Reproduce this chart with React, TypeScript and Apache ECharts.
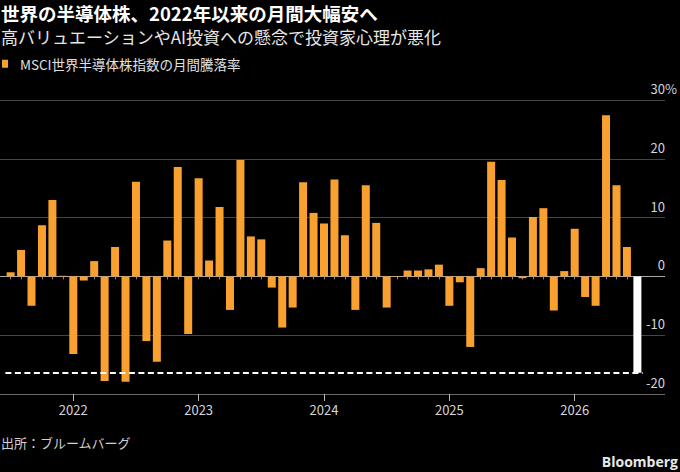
import React, { useEffect, useRef } from 'react';
import * as echarts from 'echarts';

const TITLE = '世界の半導体株、2022年以来の月間大幅安へ';
const SUBTITLE = '高バリュエーションやAI投資への懸念で投資家心理が悪化';
const SERIES_NAME = 'MSCI世界半導体株指数の月間騰落率';
const SOURCE = '出所：ブルームバーグ';
const BRAND = 'Bloomberg';

const months = [
  '2021-07', '2021-08', '2021-09', '2021-10', '2021-11', '2021-12',
  '2022-01', '2022-02', '2022-03', '2022-04', '2022-05', '2022-06',
  '2022-07', '2022-08', '2022-09', '2022-10', '2022-11', '2022-12',
  '2023-01', '2023-02', '2023-03', '2023-04', '2023-05', '2023-06',
  '2023-07', '2023-08', '2023-09', '2023-10', '2023-11', '2023-12',
  '2024-01', '2024-02', '2024-03', '2024-04', '2024-05', '2024-06',
  '2024-07', '2024-08', '2024-09', '2024-10', '2024-11', '2024-12',
  '2025-01', '2025-02', '2025-03', '2025-04', '2025-05', '2025-06',
  '2025-07', '2025-08', '2025-09', '2025-10', '2025-11', '2025-12',
  '2026-01', '2026-02', '2026-03', '2026-04', '2026-05', '2026-06',
  '2026-07',
];

const changes = [
  0.7, 4.5, -5.0, 8.7, 13.0, 0.1,
  -13.2, -0.7, 2.6, -17.8, 5.0, -17.9,
  16.1, -11.0, -14.5, 6.1, 18.6, -9.8,
  16.7, 2.7, 11.8, -5.7, 19.8, 6.8,
  6.3, -1.9, -8.7, -5.3, 16.0, 10.8,
  9.0, 16.5, 7.0, -5.7, 15.5, 9.1,
  -5.3, -0.1, 1.0, 1.0, 1.2, 2.0,
  -5.0, -1.0, -12.0, 1.4, 19.5, 16.4,
  6.6, -0.3, 10.1, 11.6, -5.8, 0.9,
  8.1, -3.5, -5.0, 27.4, 15.5, 5.0,
  -16.4,
];

const latestDrop = -16.4;
const yMin = -20;
const yMax = 30;
const yStep = 10;

const ORANGE = '#F8A131';
const FONT = "'Noto Sans CJK JP', 'Noto Sans', sans-serif";

export default function App() {
  const ref = useRef<HTMLDivElement>(null);

  useEffect(() => {
    if (!ref.current) return;
    const chart = echarts.init(ref.current, null, { renderer: 'svg' });
    const lastIdx = changes.length - 1;
    const isYearStart = (_i: number, v: string) => String(v).endsWith('-01');

    chart.setOption({
      animation: false,
      backgroundColor: '#000',
      textStyle: { fontFamily: FONT },
      title: [
        {
          text: TITLE, left: 1, top: 3, padding: 0,
          textStyle: { color: '#fff', fontSize: 18.5, fontWeight: 'bold', fontFamily: FONT, lineHeight: 19 },
        },
        {
          text: SUBTITLE, left: 1, top: 26.5, padding: 0,
          textStyle: { color: '#e6e6e6', fontSize: 17, fontWeight: 'normal', fontFamily: FONT, lineHeight: 19 },
        },
        {
          text: SOURCE, left: 1, top: 434, padding: 0,
          textStyle: { color: '#d0d0d0', fontSize: 13, fontWeight: 'normal', fontFamily: FONT, lineHeight: 16 },
        },
        {
          text: BRAND, right: 2, top: 453, padding: 0,
          textStyle: { color: '#e8e8e8', fontSize: 14, fontWeight: 'bold', fontFamily: "'Open Sans', 'Noto Sans', sans-serif", lineHeight: 17 },
        },
      ],
      legend: {
        left: 2, top: 57, padding: 0,
        icon: 'rect', itemWidth: 6, itemHeight: 8,
        textStyle: { color: '#e0e0e0', fontSize: 13.5, fontFamily: FONT, padding: [0, 0, 0, 7] },
        data: [SERIES_NAME],
      },
      grid: [
        { left: 0, right: 10, top: 100, bottom: 78 },
        { left: 5.4, right: 37.4, top: 100, bottom: 78 },
      ],
      xAxis: [
        { gridIndex: 0, type: 'value', min: 0, max: 1, show: false },
        {
          gridIndex: 1, type: 'category', data: months, position: 'bottom',
          axisLine: { show: false },
          axisTick: { show: true, alignWithLabel: true, interval: 0, length: 3, lineStyle: { color: '#8a8a8a' } },
          axisLabel: { show: false },
          splitLine: { show: false },
        },
        {
          gridIndex: 1, type: 'category', data: months, position: 'bottom',
          axisLine: { show: false },
          axisTick: { show: true, alignWithLabel: true, interval: isYearStart, length: 7, lineStyle: { color: '#bbbbbb' } },
          axisLabel: {
            show: true, interval: isYearStart, margin: 9,
            formatter: (v: string) => v.slice(0, 4),
            color: '#d6d6d6', fontSize: 13, fontFamily: FONT,
          },
          splitLine: { show: false },
        },
      ],
      yAxis: [
        {
          gridIndex: 0, type: 'value', min: yMin, max: yMax, interval: yStep, position: 'right',
          axisLine: { show: false },
          axisTick: { show: false },
          splitLine: {
            show: true,
            lineStyle: { color: ['#6a6a6a', '#454545', '#a8a8a8', '#454545', '#454545', '#454545'], width: 1 },
          },
          axisLabel: {
            inside: true, margin: 0, verticalAlign: 'bottom', padding: [0, 0, 5, 0],
            color: '#d6d6d6', fontSize: 13, fontFamily: FONT,
            formatter: (v: number) => (v === yMax ? `{n|${v}}{p|%}` : String(v)),
            rich: {
              n: { align: 'left', color: '#d6d6d6', fontSize: 13, fontFamily: FONT },
              p: { align: 'left', width: 0, color: '#d6d6d6', fontSize: 13, fontFamily: FONT },
            },
          },
        },
        { gridIndex: 1, type: 'value', min: yMin, max: yMax, interval: yStep, show: false, splitLine: { show: false } },
      ],
      series: [
        {
          name: SERIES_NAME,
          type: 'bar',
          xAxisIndex: 1,
          yAxisIndex: 1,
          barWidth: 8,
          itemStyle: { color: ORANGE },
          data: changes.map((v, i) => (i === lastIdx ? { value: v, itemStyle: { color: '#ffffff' } } : v)),
          markLine: {
            silent: true,
            symbol: ['none', 'none'],
            label: { show: false },
            lineStyle: { color: '#ffffff', type: [6, 3.5], width: 2 },
            data: [{ yAxis: latestDrop }],
          },
        },
      ],
    });

    return () => chart.dispose();
  }, []);

  return (
    <div
      ref={ref}
      style={{ position: 'fixed', left: 0, top: 0, width: 680, height: 472, background: '#000' }}
    />
  );
}
